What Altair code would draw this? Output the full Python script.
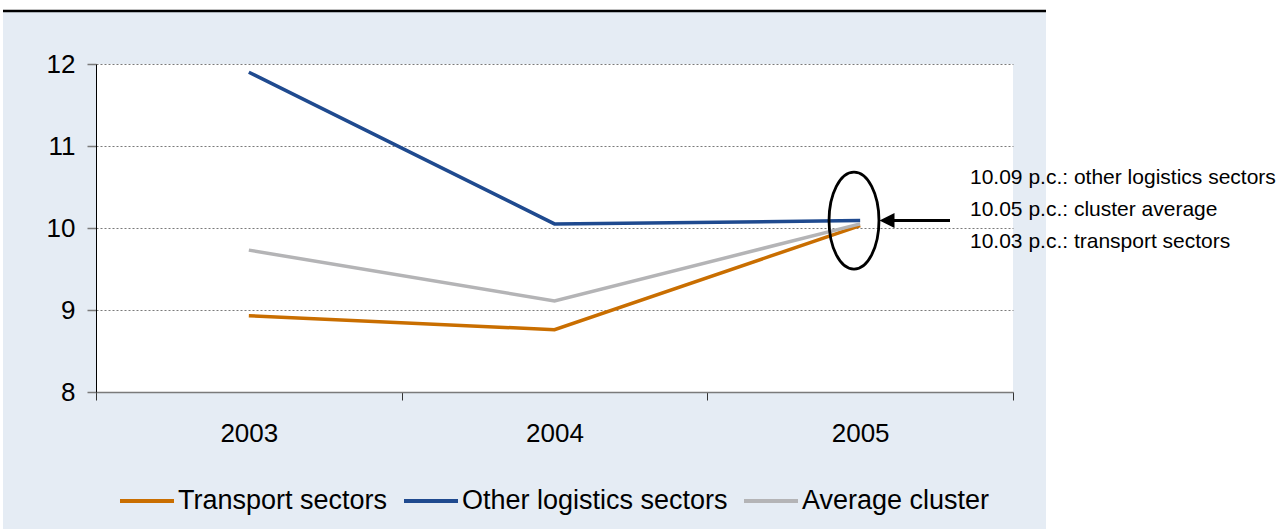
import altair as alt
import pandas as pd

# ---- data ----
years = ["2003", "2004", "2005"]
transport = [8.93, 8.76, 10.03]
other_logistics = [11.90, 10.05, 10.09]
average_cluster = [9.73, 9.11, 10.05]
series_names = ["Transport sectors", "Other logistics sectors", "Average cluster"]
series_colors = ["#C96E00", "#1F4A8F", "#B4B4B6"]
y_ticks = [8, 9, 10, 11, 12]
annotation_suffix = ["other logistics sectors", "cluster average", "transport sectors"]
annotation_values = [other_logistics[2], average_cluster[2], transport[2]]

FONT = "Liberation Sans"
W, H = 917, 328
OX, OY = 96, 64
CANVAS_W, CANVAS_H = 1282, 529
PANEL_RIGHT = 1046

rows = []
for name, vals in zip(series_names, [transport, other_logistics, average_cluster]):
    for yr, v in zip(years, vals):
        rows.append({"year": yr, "value": v, "series": name})
df = pd.DataFrame(rows)
marker_df = df[(df["year"] == years[-1]) & (df["series"] == series_names[1])]

ann_df = pd.DataFrame({
    "label": [f"{v:.2f} p.c.: {s}" for v, s in zip(annotation_values, annotation_suffix)],
    "row": [0, 1, 2],
})

one = alt.Data(values=[{"k": 1}])

def white_rect(x0, x1, y0, y1):
    return alt.Chart(one).mark_rect(color="white").encode(
        x=alt.value(x0 - OX), x2=alt.value(x1 - OX),
        y=alt.value(y0 - OY), y2=alt.value(y1 - OY),
    )

top_white = white_rect(0, CANVAS_W, 0, 10)
left_white = white_rect(0, 3, 0, CANVAS_H)
right_white = white_rect(PANEL_RIGHT, CANVAS_W, 0, CANVAS_H)

top_line = alt.Chart(one).mark_rule(color="black", strokeWidth=2.5).encode(
    x=alt.value(3 - OX), x2=alt.value(PANEL_RIGHT - OX), y=alt.value(11 - OY)
)

y_enc = alt.Y("value:Q",
              scale=alt.Scale(domain=[8, 12], nice=False, zero=False),
              axis=alt.Axis(title=None, values=y_ticks, tickSize=9, tickColor="#7a7a7a",
                            tickWidth=1.5, domainColor="black", labelFontSize=26,
                            labelFont=FONT, labelColor="black", labelPadding=12,
                            grid=True, gridColor="#7a7a7a", gridDash=[2, 2], gridWidth=1))

lines = alt.Chart(df).mark_line(strokeWidth=3.5).encode(
    x=alt.X("year:N",
            scale=alt.Scale(type="band", paddingInner=0, paddingOuter=0),
            axis=alt.Axis(title=None, labelAngle=0, tickBand="extent", tickSize=8,
                          tickColor="#333333", domainColor="#7a7a7a", domainWidth=1.5,
                          labelFontSize=26, labelFont=FONT, labelColor="black",
                          labelPadding=20, grid=False)),
    y=y_enc,
    color=alt.Color("series:N",
                    scale=alt.Scale(domain=series_names, range=series_colors),
                    legend=alt.Legend(title=None, orient="none", direction="horizontal",
                                      legendX=22, legendY=408, padding=0,
                                      symbolType="stroke", symbolSize=2916,
                                      symbolStrokeWidth=4, labelFontSize=27,
                                      labelFont=FONT, labelColor="black",
                                      labelOffset=2, columnPadding=8, labelLimit=600)),
    order=alt.Order("year:N"),
)

ellipse = alt.Chart(marker_df).mark_point(
    shape="M0,-1 A0.515,1 0 1 1 0,1 A0.515,1 0 1 1 0,-1 Z",
    size=9409, filled=False, stroke="black", strokeWidth=2.8, opacity=1,
).encode(x=alt.value(854 - OX), y=y_enc)

arrow_shaft = alt.Chart(marker_df).mark_rule(color="black", strokeWidth=3).encode(
    x=alt.value(890 - OX), x2=alt.value(950 - OX), y=y_enc,
)

arrow_head = alt.Chart(marker_df).mark_point(
    shape="M-1,0 L1,-1 L1,1 Z", size=225, filled=True, color="black", opacity=1,
).encode(x=alt.value(887 - OX), y=y_enc)

ann_text = alt.Chart(ann_df).mark_text(
    align="left", baseline="middle", fontSize=21, font=FONT, color="black"
).encode(
    x=alt.value(970 - OX),
    y=alt.value(178 - OY),
    yOffset=alt.YOffset("row:Q", scale=alt.Scale(domain=[0, 2], range=[0, 64])),
    text="label:N",
)

chart = alt.layer(
    top_white, left_white, right_white, top_line,
    lines, ellipse, arrow_shaft, arrow_head, ann_text,
).properties(
    width=W, height=H,
    background="#E5ECF4",
    padding={"left": OX, "top": OY, "right": CANVAS_W - OX - W, "bottom": CANVAS_H - OY - H},
    autosize=alt.AutoSizeParams(type="none"),
).configure_view(fill="white", stroke=None)

chart.save("out.html", embed_options={"renderer": "svg", "actions": False})
